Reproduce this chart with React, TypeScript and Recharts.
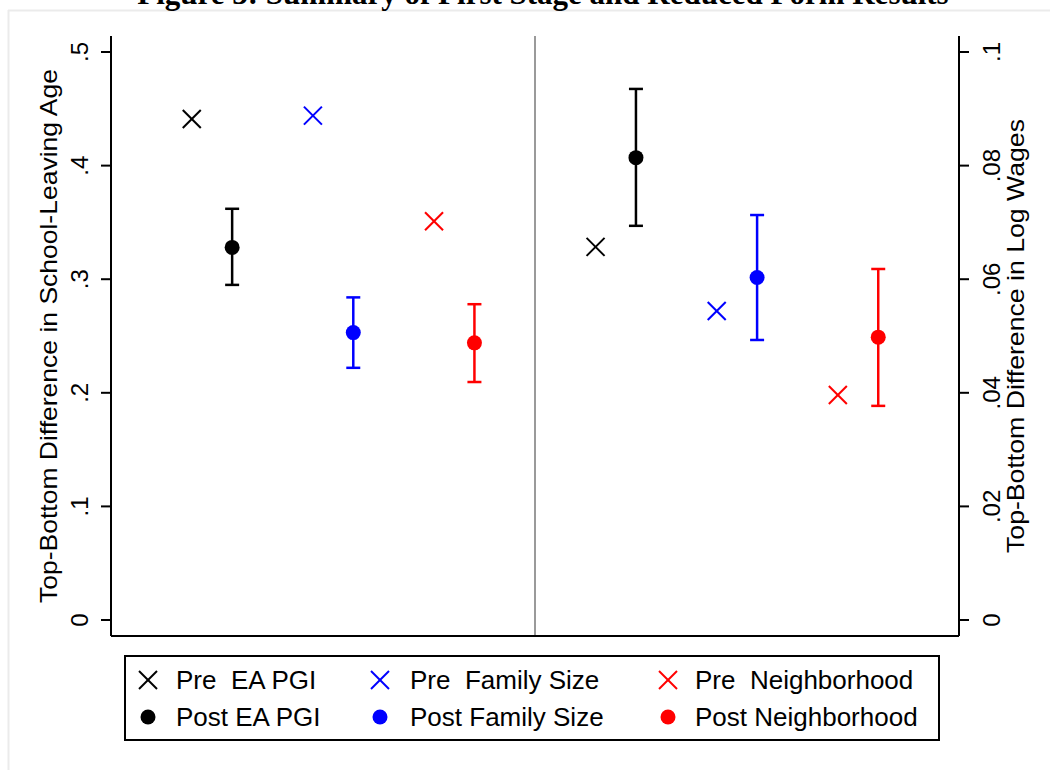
import React from 'react';
import { ScatterChart, Scatter, XAxis, YAxis, ErrorBar, ReferenceLine, Legend } from 'recharts';

const groups = ['EA PGI', 'Family Size', 'Neighborhood'];
const colors = ['#000000', '#0000ff', '#ff0000'];

// slot of each marker on the hidden x scale (left panel), right panel is shifted
const prePos = [2, 5, 8];
const postPos = [3, 6, 9];
const rightShift = 10;
const dividerPos = 10.5;

// left panel: school-leaving age
const schoolPre = [0.441, 0.444, 0.351];
const schoolPost = [0.328, 0.253, 0.244];
const schoolLo = [0.295, 0.222, 0.2095];
const schoolHi = [0.362, 0.284, 0.278];

// right panel: log wages
const wagePre = [0.0657, 0.0544, 0.0396];
const wagePost = [0.0814, 0.0603, 0.0498];
const wageLo = [0.0694, 0.0493, 0.0377];
const wageHi = [0.0935, 0.0713, 0.0618];

const leftTicks = [0, 0.1, 0.2, 0.3, 0.4, 0.5];
const leftTickLabels = ['0', '.1', '.2', '.3', '.4', '.5'];
const rightTicks = [0, 0.02, 0.04, 0.06, 0.08, 0.1];
const rightTickLabels = ['0', '.02', '.04', '.06', '.08', '.1'];

const FONT = '"Liberation Sans", Arial, Helvetica, sans-serif';
const FS = 26;
const VFS = 24;

const preRows = (vals: number[], shift: number) =>
  vals.map((v, i) => [{ x: prePos[i] + shift, y: v }]);
const postRows = (vals: number[], lo: number[], hi: number[], shift: number) =>
  vals.map((v, i) => [{ x: postPos[i] + shift, y: v, err: [v - lo[i], hi[i] - v] }]);

const schoolPreData = preRows(schoolPre, 0);
const schoolPostData = postRows(schoolPost, schoolLo, schoolHi, 0);
const wagePreData = preRows(wagePre, rightShift);
const wagePostData = postRows(wagePost, wageLo, wageHi, rightShift);

const Cross = ({ cx, cy, color }: any) => (
  <g>
    <line x1={cx - 9} y1={cy - 9} x2={cx + 9} y2={cy + 9} stroke={color} strokeWidth={2} />
    <line x1={cx - 9} y1={cy + 9} x2={cx + 9} y2={cy - 9} stroke={color} strokeWidth={2} />
  </g>
);

const Dot = ({ cx, cy, color }: any) => <circle cx={cx} cy={cy} r={7.5} fill={color} />;

const vTick = (ticks: number[], labels: string[]) => (props: any) => {
  const { x, y, payload } = props;
  const i = ticks.findIndex((t) => Math.abs(t - payload.value) < 1e-9);
  return (
    <text
      x={x}
      y={y}
      transform={`rotate(-90, ${x}, ${y})`}
      textAnchor="middle"
      fontSize={VFS}
      fontFamily={FONT}
      fill="#000"
    >
      {i >= 0 ? labels[i] : ''}
    </text>
  );
};

const axisTitle = (text: string, offset: number, len: number) => (props: any) => {
  const vb = props.viewBox || { x: 0, y: 0, width: 0, height: 0 };
  const x = vb.x + offset;
  const y = vb.y + vb.height / 2;
  return (
    <text
      x={x}
      y={y}
      transform={`rotate(-90, ${x}, ${y})`}
      textAnchor="middle"
      fontSize={VFS}
      fontFamily={FONT}
      fill="#000"
      textLength={len}
      lengthAdjust="spacingAndGlyphs"
    >
      {text}
    </text>
  );
};

const markerX = [22, 254, 542];
const textX = [50, 284, 569];
const rowY = [23, 60];

const LegendBox = () => (
  <div
    style={{
      position: 'relative',
      width: 816,
      height: 86,
      border: '2px solid #000',
      boxSizing: 'border-box',
      background: '#fff',
      fontFamily: FONT,
      fontSize: FS,
      color: '#000',
    }}
  >
    {groups.map((g, i) => (
      <React.Fragment key={g}>
        <svg style={{ position: 'absolute', left: markerX[i] - 12, top: rowY[0] - 12 }} width={24} height={24}>
          <Cross cx={12} cy={12} color={colors[i]} />
        </svg>
        <span style={{ position: 'absolute', left: textX[i], top: rowY[0], transform: 'translateY(-50%)', whiteSpace: 'pre', lineHeight: 1 }}>
          {'Pre  ' + g}
        </span>
        <svg style={{ position: 'absolute', left: markerX[i] - 12, top: rowY[1] - 12 }} width={24} height={24}>
          <Dot cx={12} cy={12} color={colors[i]} />
        </svg>
        <span style={{ position: 'absolute', left: textX[i], top: rowY[1], transform: 'translateY(-50%)', whiteSpace: 'pre', lineHeight: 1 }}>
          {'Post ' + g}
        </span>
      </React.Fragment>
    ))}
  </div>
);

export default function App() {
  return (
    <div style={{ position: 'absolute', left: 0, top: 0, width: 1050, height: 770, background: '#fff', overflow: 'hidden' }}>
      <svg style={{ position: 'absolute', left: 0, top: 0 }} width={1050} height={770}>
        <line x1={8} y1={10.5} x2={1050} y2={10.5} stroke="#ebebeb" strokeWidth={2} />
        <line x1={8.5} y1={10} x2={8.5} y2={770} stroke="#ebebeb" strokeWidth={2} />
        <text x={543} y={4} textAnchor="middle" fontSize={31} fontWeight="bold" fontFamily='"Liberation Serif", "Times New Roman", serif' fill="#000">
          Figure 3: Summary of First Stage and Reduced Form Results
        </text>
      </svg>
      <div style={{ position: 'absolute', left: 0, top: 0 }}>
        <ScatterChart width={1050} height={770} margin={{ top: 36, right: 0, bottom: 104, left: 11 }}>
          <XAxis
            type="number"
            dataKey="x"
            domain={[0, 21]}
            height={30}
            tick={false}
            tickLine={false}
            axisLine={{ stroke: '#000', strokeWidth: 2 }}
          />
          <YAxis
            yAxisId="left"
            orientation="left"
            type="number"
            dataKey="y"
            width={100}
            domain={[-0.01408, 0.5141]}
            ticks={leftTicks}
            allowDataOverflow
            tickSize={10}
            tickMargin={13}
            tick={vTick(leftTicks, leftTickLabels)}
            tickLine={{ stroke: '#000', strokeWidth: 2 }}
            axisLine={{ stroke: '#000', strokeWidth: 2 }}
            label={axisTitle('Top-Bottom Difference in School-Leaving Age', 46, 534)}
          />
          <YAxis
            yAxisId="right"
            orientation="right"
            type="number"
            dataKey="y"
            width={91}
            domain={[-0.002817, 0.10282]}
            ticks={rightTicks}
            allowDataOverflow
            tickSize={10}
            tickMargin={31}
            tick={vTick(rightTicks, rightTickLabels)}
            tickLine={{ stroke: '#000', strokeWidth: 2 }}
            axisLine={{ stroke: '#000', strokeWidth: 2 }}
            label={axisTitle('Top-Bottom Difference in Log Wages', 65, 434)}
          />
          <ReferenceLine yAxisId="left" x={dividerPos} stroke="#9a9a9a" strokeWidth={2} />
          {groups.map((g, i) => (
            <Scatter
              key={'sp' + g}
              yAxisId="left"
              data={schoolPreData[i]}
              isAnimationActive={false}
              shape={(p: any) => <Cross cx={p.cx} cy={p.cy} color={colors[i]} />}
            />
          ))}
          {groups.map((g, i) => (
            <Scatter
              key={'so' + g}
              yAxisId="left"
              data={schoolPostData[i]}
              isAnimationActive={false}
              shape={(p: any) => <Dot cx={p.cx} cy={p.cy} color={colors[i]} />}
            >
              <ErrorBar dataKey="err" direction="y" width={7} stroke={colors[i]} strokeWidth={2.5} />
            </Scatter>
          ))}
          {groups.map((g, i) => (
            <Scatter
              key={'wp' + g}
              yAxisId="right"
              data={wagePreData[i]}
              isAnimationActive={false}
              shape={(p: any) => <Cross cx={p.cx} cy={p.cy} color={colors[i]} />}
            />
          ))}
          {groups.map((g, i) => (
            <Scatter
              key={'wo' + g}
              yAxisId="right"
              data={wagePostData[i]}
              isAnimationActive={false}
              shape={(p: any) => <Dot cx={p.cx} cy={p.cy} color={colors[i]} />}
            >
              <ErrorBar dataKey="err" direction="y" width={7} stroke={colors[i]} strokeWidth={2.5} />
            </Scatter>
          ))}
          <Legend
            layout="horizontal"
            verticalAlign="middle"
            align="center"
            content={() => <LegendBox />}
            wrapperStyle={{ position: 'absolute', left: 124, top: 655, width: 816, height: 86, margin: 0 }}
          />
        </ScatterChart>
      </div>
    </div>
  );
}
